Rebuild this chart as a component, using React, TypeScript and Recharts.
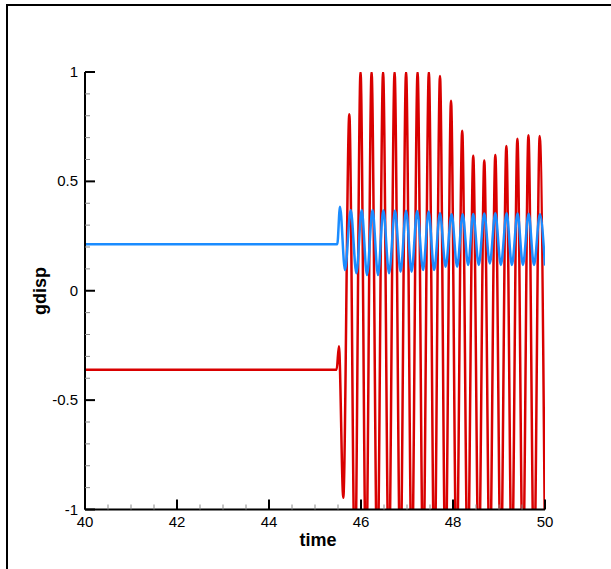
import React from "react";
import { LineChart, Line, XAxis, YAxis } from "recharts";

// values (peaks and troughs of each cycle)
const redTime = [
  40, 45.47, 45.52, 45.615, 45.746, 45.868, 45.99, 46.11, 46.23, 46.355, 46.48,
  46.605, 46.73, 46.855, 46.98, 47.105, 47.23, 47.352, 47.475, 47.596, 47.717,
  47.837, 47.957, 48.078, 48.2, 48.32, 48.44, 48.56, 48.68, 48.8, 48.92, 49.04,
  49.16, 49.28, 49.4, 49.52, 49.64, 49.762, 49.885, 50,
];
const redValue = [
  -0.361, -0.361, -0.254, -0.946, 0.807, -1.3, 1, -1.3, 1, -1.3, 1, -1.3, 1,
  -1.3, 1, -1.3, 1, -1.3, 1, -1.3, 0.982, -1.3, 0.869, -1.3, 0.732, -1.3, 0.617,
  -1.3, 0.595, -1.3, 0.621, -1.3, 0.662, -1.3, 0.695, -1.3, 0.711, -1.3, 0.707,
  -1.2,
];

const blueTime = [
  40, 45.484, 45.543, 45.652, 45.776, 45.9, 46.015, 46.13, 46.25, 46.37, 46.485,
  46.61, 46.74, 46.86, 46.98, 47.1, 47.22, 47.35, 47.47, 47.59, 47.717, 47.84,
  47.97, 48.09, 48.21, 48.33, 48.44, 48.56, 48.68, 48.8, 48.92, 49.04, 49.166,
  49.28, 49.404, 49.52, 49.645, 49.76, 49.89, 50,
];
const blueValue = [
  0.213, 0.213, 0.384, 0.095, 0.369, 0.08, 0.369, 0.072, 0.369, 0.072, 0.368,
  0.08, 0.367, 0.087, 0.366, 0.087, 0.365, 0.095, 0.362, 0.095, 0.354, 0.11,
  0.35, 0.11, 0.35, 0.118, 0.351, 0.118, 0.353, 0.125, 0.354, 0.118, 0.354,
  0.118, 0.353, 0.118, 0.352, 0.118, 0.35, 0.115,
];

const xTicks = [
  40, 40.5, 41, 41.5, 42, 42.5, 43, 43.5, 44, 44.5, 45, 45.5, 46, 46.5, 47,
  47.5, 48, 48.5, 49, 49.5, 50,
];
const yTicks = [
  -1, -0.9, -0.8, -0.7, -0.6, -0.5, -0.4, -0.3, -0.2, -0.1, 0, 0.1, 0.2, 0.3,
  0.4, 0.5, 0.6, 0.7, 0.8, 0.9, 1,
];

const redData = redTime.map((t, i) => ({ t, v: redValue[i] }));
const blueData = blueTime.map((t, i) => ({ t, v: blueValue[i] }));

const FONT = "'Liberation Sans', Arial, Helvetica, sans-serif";

function XTick(props: any) {
  const { x, y, payload } = props;
  const major = payload.value % 2 === 0;
  return (
    <g>
      <line
        x1={x}
        y1={y}
        x2={x}
        y2={y - (major ? 10 : 5)}
        stroke={major ? "#000" : "#8a8a8a"}
        strokeWidth={major ? 2 : 1}
      />
      {major && (
        <text x={x} y={y + 17} textAnchor="middle" fontSize={15} fontFamily={FONT} fill="#000">
          {payload.value}
        </text>
      )}
    </g>
  );
}

function YTick(props: any) {
  const { x, y, payload } = props;
  const v = payload.value;
  const major = Math.abs(v * 2 - Math.round(v * 2)) < 1e-6;
  return (
    <g>
      <line
        x1={x}
        y1={y}
        x2={x + (major ? 10 : 5)}
        y2={y}
        stroke={major ? "#000" : "#8a8a8a"}
        strokeWidth={major ? 2 : 1}
      />
      {major && (
        <text x={x - 7} y={y + 5} textAnchor="end" fontSize={15} fontFamily={FONT} fill="#000">
          {v}
        </text>
      )}
    </g>
  );
}

export default function App() {
  return (
    <div style={{ position: "absolute", left: 0, top: 0, width: 611, height: 569, background: "#fff", overflow: "hidden" }}>
      <div style={{ position: "absolute", left: 6, top: 4, width: 700, height: 2, background: "#000" }} />
      <div style={{ position: "absolute", left: 6, top: 4, width: 2, height: 700, background: "#000" }} />
      <LineChart
        width={611}
        height={569}
        margin={{ top: 72, right: 66, left: 5, bottom: 20 }}
        style={{ position: "absolute", left: 0, top: 0 }}
      >
        <XAxis
          dataKey="t"
          type="number"
          domain={[40, 50]}
          ticks={xTicks}
          interval={0}
          height={39.5}
          tickSize={0}
          tickMargin={0}
          tickLine={false}
          axisLine={{ stroke: "#000", strokeWidth: 2 }}
          tick={<XTick />}
          allowDataOverflow
        />
        <YAxis
          type="number"
          domain={[-1, 1]}
          ticks={yTicks}
          interval={0}
          width={80}
          tickSize={0}
          tickMargin={0}
          tickLine={false}
          axisLine={{ stroke: "#000", strokeWidth: 2 }}
          tick={<YTick />}
          allowDataOverflow
        />
        <Line
          data={redData}
          dataKey="v"
          type="monotone"
          stroke="#d90000"
          strokeWidth={2.5}
          dot={false}
          activeDot={false}
          isAnimationActive={false}
        />
        <Line
          data={blueData}
          dataKey="v"
          type="monotone"
          stroke="#1a8cff"
          strokeWidth={2.5}
          dot={false}
          activeDot={false}
          isAnimationActive={false}
        />
        <text x={318} y={546} textAnchor="middle" fontSize={18} fontWeight="bold" fontFamily={FONT} fill="#000">
          time
        </text>
        <text
          x={46}
          y={291}
          transform="rotate(-90 46 291)"
          textAnchor="middle"
          fontSize={18}
          fontWeight="bold"
          fontFamily={FONT}
          fill="#000"
        >
          gdisp
        </text>
      </LineChart>
    </div>
  );
}
